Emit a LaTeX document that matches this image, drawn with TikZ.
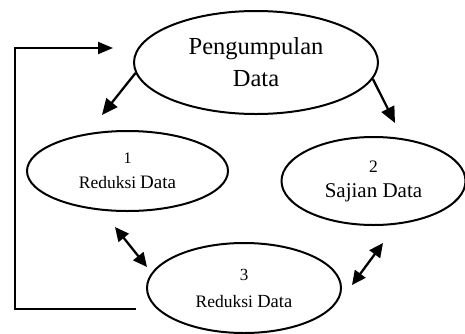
\documentclass[tikz,border=0pt]{standalone}
\usepackage{fontspec}
\setmainfont{Liberation Serif}
\usetikzlibrary{shapes.geometric,arrows.meta}
\begin{document}
\begin{tikzpicture}[x=1pt,y=-1pt,
  bubble/.style={draw,ellipse,line width=2pt,inner sep=0pt,align=center},
  flow/.style={line width=2.3pt,-{Triangle[length=16pt,width=14pt]}},
  both/.style={line width=2.3pt,{Triangle[length=14pt,width=13pt]}-{Triangle[length=14pt,width=13pt]}},
  loopline/.style={line width=2pt,-{Triangle[length=15pt,width=12pt]}}]
\useasboundingbox (0,0) rectangle (465,333);

% process bubbles
\node[bubble,minimum width=244pt,minimum height=103pt,
      font=\fontsize{24.5}{32}\selectfont] (kumpul) at (256,62.5)
      {Pengumpulan\\Data};
\node[bubble,minimum width=201pt,minimum height=80pt,
      font=\fontsize{16}{25}\selectfont] (reduksiA) at (127.5,171)
      {1\\{\fontsize{17.5}{25}\selectfont Reduksi} {\fontsize{19}{25}\selectfont Data}};
\node[bubble,minimum width=184pt,minimum height=88pt,
      font=\fontsize{17.5}{25}\selectfont] (sajian) at (373.5,181)
      {2\\{\fontsize{21}{25}\selectfont Sajian Data}};
\node[bubble,minimum width=194pt,minimum height=90pt,
      font=\fontsize{17}{27}\selectfont] (reduksiB) at (244,288)
      {3\\{\fontsize{17.5}{27}\selectfont Reduksi} {\fontsize{18.5}{27}\selectfont Data}};

% free ends of the connectors
\coordinate (tipA) at (102,115);
\coordinate (tipB) at (395,123);
\coordinate (lA1) at (115,227);
\coordinate (lA2) at (147,267);
\coordinate (rA1) at (383,243);
\coordinate (rA2) at (352,285);
\coordinate (fbStart) at (136,309);
\coordinate (fbLow) at (15,309);
\coordinate (fbHigh) at (15,48);
\coordinate (fbTip) at (113,48);

% connectors
\draw[flow] (kumpul.185) -- (tipA);
\draw[flow] (kumpul.-8) -- (tipB);
\draw[both] (lA1) -- (lA2);
\draw[both] (rA1) -- (rA2);
\draw[loopline] (fbStart) -- (fbLow) -- (fbHigh) -- (fbTip);
\end{tikzpicture}
\end{document}
